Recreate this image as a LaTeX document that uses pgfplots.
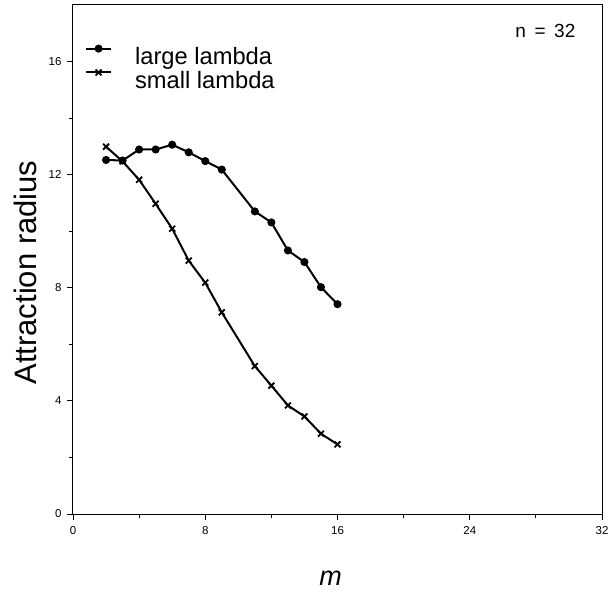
\documentclass[border=0pt]{standalone}
\usepackage{pgfplots}
\pgfplotsset{compat=1.18}
\usepackage{fontspec}
\setmainfont{Liberation Sans}
\setsansfont{Liberation Sans}
\begin{document}
\begin{tikzpicture}
\begin{axis}[
  scale only axis,
  width=529pt, height=509pt,
  xmin=0, xmax=32, ymin=0, ymax=18,
  xtick={0,8,16,24,32}, ytick={0,4,8,12,16},
  minor xtick={4,12,20,28}, minor ytick={2,6,10,14},
  xtick pos=bottom, ytick pos=left,
  tick align=outside,
  major tick length=6pt, minor tick length=3.5pt,
  axis line style={line width=1pt},
  every tick/.style={line width=0.9pt, black},
  /pgf/number format/assume math mode=true,
  tick label style={font=\fontsize{11.5}{13}\selectfont},
  yticklabel style={xshift=-2pt},
  xticklabel style={yshift=-3pt},
  xlabel={\textit{m}}, ylabel={Attraction radius},
  xlabel style={font=\fontsize{27}{30}\selectfont, at={([yshift=-71pt]axis description cs:0.487,0)}, anchor=base},
  ylabel style={font=\fontsize{31}{34}\selectfont, at={([xshift=-36pt]axis description cs:0,0.4745)}, anchor=base, rotate=0},
  legend style={at={(axis cs:0.72,16.57)}, anchor=north west, draw=none, fill=none,
    font=\fontsize{23.7}{26}\selectfont, row sep=3.5pt, inner sep=0pt,
    column sep=23pt,
    nodes={inner xsep=0pt, inner ysep=0pt}},
  legend cell align=left,
  legend image code/.code={\draw[mark repeat=2,mark phase=2,#1] plot coordinates {(0pt,8pt) (12.5pt,8pt) (25pt,8pt)};},
]
\addplot[black, line width=2pt, mark=*, mark size=3pt] coordinates {
(2,12.52) (3,12.50) (4,12.89) (5,12.89) (6,13.06) (7,12.79) (8,12.48) (9,12.18)
(11,10.70) (12,10.31) (13,9.32) (14,8.91) (15,8.02) (16,7.42)};
\addlegendentry{large lambda}
\addplot[black, line width=2pt, mark=x, mark size=4.2pt, mark options={line width=1.8pt}] coordinates {
(2,12.99) (3,12.47) (4,11.82) (5,10.97) (6,10.09) (7,8.96) (8,8.18) (9,7.13)
(11,5.23) (12,4.54) (13,3.84) (14,3.45) (15,2.84) (16,2.46)};
\addlegendentry{small lambda}
\node[anchor=base east, inner sep=0pt, font=\fontsize{19}{22}\selectfont] at (axis cs:30.4,16.84) {n\hspace{0.45em}=\hspace{0.45em}32};
\end{axis}
\pgfresetboundingbox
\path ([shift={(-73pt,-78pt)}]current axis.south west) rectangle ([shift={(10pt,5pt)}]current axis.north east);
\end{tikzpicture}
\end{document}
